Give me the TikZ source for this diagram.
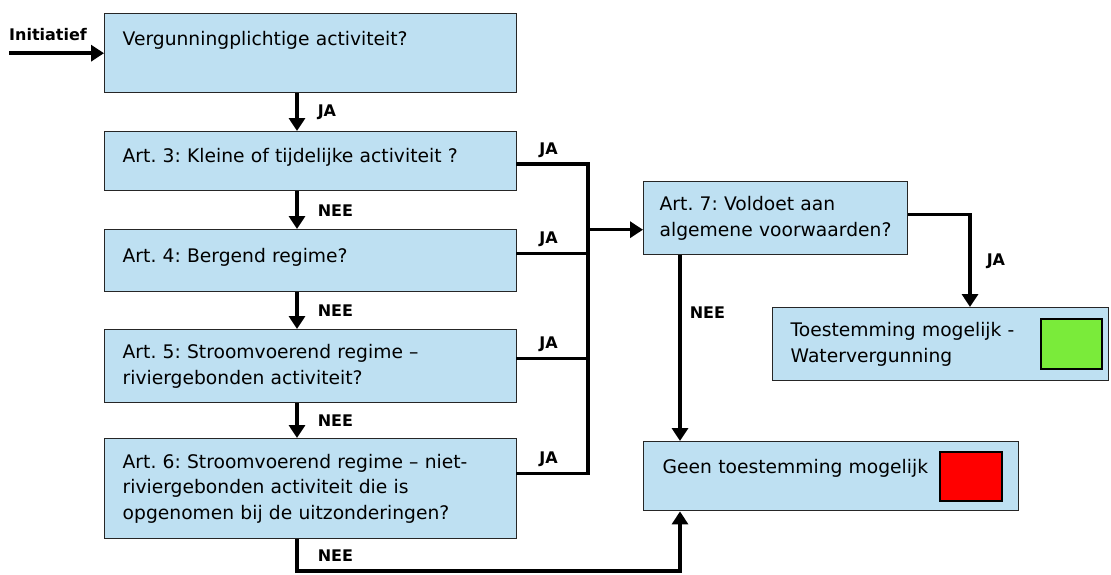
\documentclass[tikz,border=0pt]{standalone}
\usepackage{fontspec}
\setmainfont{DejaVu Sans}
\frenchspacing
\usetikzlibrary{positioning,arrows.meta}

\definecolor{vakblauw}{RGB}{190,224,242}
\definecolor{groen}{RGB}{122,235,58}
\definecolor{rood}{RGB}{255,0,0}

\tikzset{
  vraag/.style={draw=black!85, line width=1.4pt, fill=vakblauw, anchor=north west,
    align=left, inner xsep=18pt, inner ysep=0pt,
    font=\fontsize{18.7pt}{25.5pt}\selectfont},
  etiket/.style={inner sep=0pt, font=\bfseries\fontsize{16pt}{19pt}\selectfont},
  lijn/.style={line width=3.5pt, line cap=rect},
  pijl/.style={line width=3.5pt, -{Triangle[length=13pt,width=16pt]}},
  vlak/.style={draw=black, line width=2pt, inner sep=0pt, minimum width=61pt, minimum height=50pt}
}

\begin{document}
\begin{tikzpicture}[x=1pt, y=-1pt]
\useasboundingbox (0,0) rectangle (1111,574);

% Vragen links
\node[vraag, text width=376pt, minimum height=79pt, text depth=29pt] (vg) at (104,13) {Vergunningplichtige activiteit?};
\node[vraag, text width=376pt, minimum height=59pt, text depth=12pt] (art3) at (104,131) {Art. 3: Kleine of tijdelijke activiteit ?};
\node[vraag, text width=376pt, minimum height=62pt, text depth=10pt] (art4) at (104,229) {Art. 4: Bergend regime?};
\node[vraag, text width=376pt, minimum height=73pt] (art5) at (104,329) {Art. 5: Stroomvoerend regime --\\riviergebonden activiteit?};
\node[vraag, text width=376pt, minimum height=100pt] (art6) at (104,438) {Art. 6: Stroomvoerend regime -- niet-\\riviergebonden activiteit die is\\opgenomen bij de uitzonderingen?};

% Rechts
\node[vraag, text width=232pt, inner xsep=16pt, minimum height=73pt] (art7) at (643,181) {Art. 7: Voldoet aan\\algemene voorwaarden?};
\node[vraag, text width=300pt, minimum height=73pt] (ok) at (772,307) {Toestemming mogelijk -\\Watervergunning};
\node[vraag, text width=337pt, inner xsep=19pt, minimum height=69pt, text depth=19pt] (geen) at (643,441) {Geen toestemming mogelijk};
\node[vlak, fill=groen, left=6pt of ok.east] (groenvlak) {};
\node[vlak, fill=rood, minimum width=62pt, minimum height=49pt, left=16pt of geen.east] (roodvlak) {};

% Hulppunten
\coordinate (kol) at (297,0);
\coordinate (bus) at (588,0);
\coordinate (kol2) at (680,0);
\coordinate (jakol) at (970,0);
\coordinate (bodem) at (0,571);

% Initiatief
\node[etiket, anchor=south west] (init) at (9,41) {Initiatief};
\draw[pijl] (init.south west |- vg.west) -- (vg.west);

% Hoofdlijn
\draw[pijl] (vg.south -| kol) -- node[etiket, right=19pt] (ja1) {JA} (art3.north -| kol);
\foreach \van/\naar/\nm in {art3/art4/nee3, art4/art5/nee4, art5/art6/nee5}
  \draw[pijl] (\van.south -| kol) -- node[etiket, right=19pt] (\nm) {NEE} (\naar.north -| kol);

% JA naar art. 7
\foreach \vak/\dy in {art3/-3pt, art4/7pt, art5/7.5pt, art6/15pt}
  \draw[lijn] ([yshift=\dy]\vak.east) -- node[etiket, above=5pt, pos=0.44] (ja-\vak) {JA} ([yshift=\dy]\vak.east -| bus);
\draw[lijn] ([yshift=-3pt]art3.east -| bus) -- ([yshift=15pt]art6.east -| bus);
\draw[pijl] ([yshift=-11.5pt]art7.west -| bus) -- ([yshift=-11.5pt]art7.west);

% Uitkomsten
\draw[pijl] ([yshift=3.5pt]art7.east) -| node[etiket, right=15pt, pos=0.75] (ja7) {JA} (ok.north -| jakol);
\draw[pijl] (art7.south -| kol2) -- node[etiket, right=8pt, pos=0.31] (nee7) {NEE} (geen.north -| kol2);
\draw[pijl] (art6.south -| kol) |- node[etiket, right=19pt, pos=0.25] (nee6) {NEE} (bodem -| kol2) -- (geen.south -| kol2);
\end{tikzpicture}
\end{document}
